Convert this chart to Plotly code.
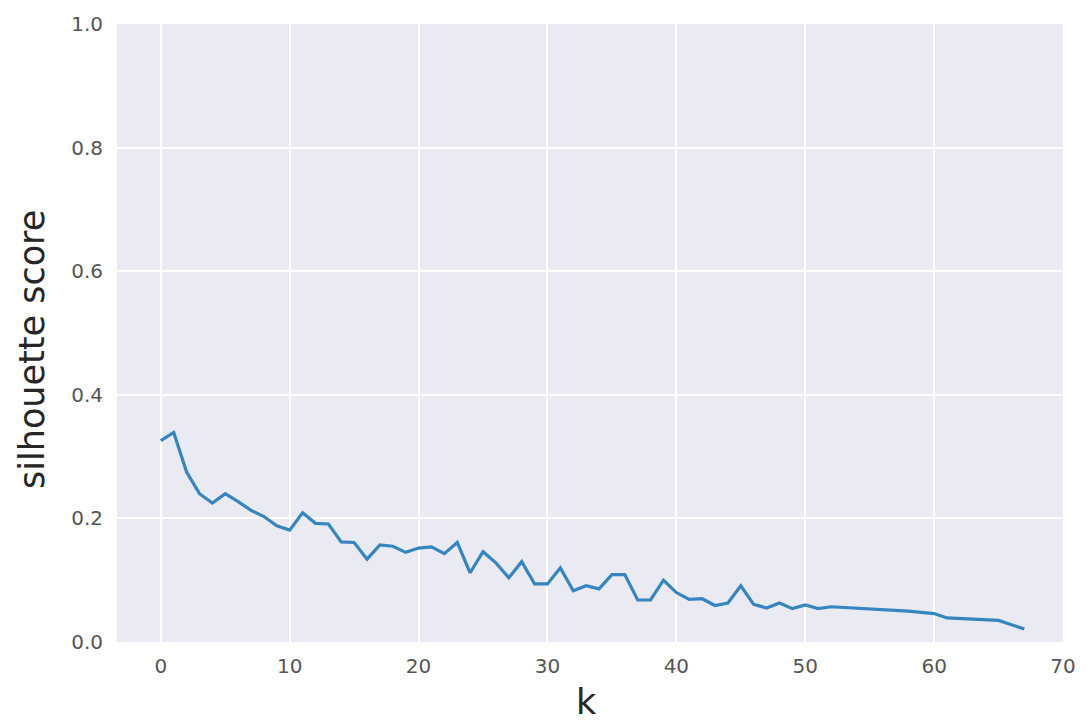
import plotly.graph_objects as go

k_values = list(range(0, 68))
silhouette = [
    0.326, 0.339, 0.275, 0.240, 0.225, 0.240, 0.227, 0.213, 0.203, 0.188,
    0.181, 0.209, 0.192, 0.191, 0.162, 0.161, 0.134, 0.157, 0.155, 0.145,
    0.152, 0.154, 0.143, 0.161, 0.112, 0.146, 0.128, 0.104, 0.130, 0.094,
    0.094, 0.120, 0.083, 0.091, 0.086, 0.109, 0.109, 0.068, 0.068, 0.100,
    0.080, 0.069, 0.070, 0.059, 0.063, 0.091, 0.061, 0.055, 0.063, 0.054,
    0.060, 0.054, 0.057, 0.056, 0.055, 0.054, 0.052, 0.051, 0.050, 0.048,
    0.046, 0.039, 0.038, 0.036, 0.036, 0.035, 0.028, 0.021,
]
x_ticks = [0, 10, 20, 30, 40, 50, 60, 70]
y_ticks = [0.0, 0.2, 0.4, 0.6, 0.8, 1.0]
x_label = "k"
y_label = "silhouette score"

fig = go.Figure()
fig.add_trace(go.Scatter(
    x=k_values, y=silhouette, mode="lines",
    line=dict(color="#3585c0", width=3.2),
    hoverinfo="skip", showlegend=False,
))

fig.update_layout(
    width=1088, height=722,
    margin=dict(l=117, r=18, t=22, b=80),
    paper_bgcolor="white",
    plot_bgcolor="#EAEAF2",
    font=dict(family="DejaVu Sans, sans-serif", color="#555555"),
    annotations=[
        dict(text=y_label, xref="paper", yref="paper", x=-0.090, y=0.474,
             xanchor="center", yanchor="middle", textangle=-90, showarrow=False,
             font=dict(family="DejaVu Sans, sans-serif", size=35, color="#262626")),
        dict(text=x_label, xref="paper", yref="paper", x=0.496, y=-0.097,
             xanchor="center", yanchor="middle", showarrow=False,
             font=dict(family="DejaVu Sans, sans-serif", size=35, color="#262626")),
    ],
)
fig.update_xaxes(
    range=[-3.4, 70], tickvals=x_ticks, ticktext=[str(v) for v in x_ticks],
    showgrid=True, gridcolor="white", gridwidth=1.6, zeroline=False,
    showline=False, ticks="", ticklabelstandoff=10,
    tickfont=dict(size=20, color="#555555"),
)
fig.update_yaxes(
    range=[0, 1], tickvals=y_ticks, ticktext=[f"{v:.1f}" for v in y_ticks],
    showgrid=True, gridcolor="white", gridwidth=1.6, zeroline=False,
    showline=False, ticks="", ticklabelstandoff=13,
    tickfont=dict(size=20, color="#555555"),
)

fig.write_html("out.html")
